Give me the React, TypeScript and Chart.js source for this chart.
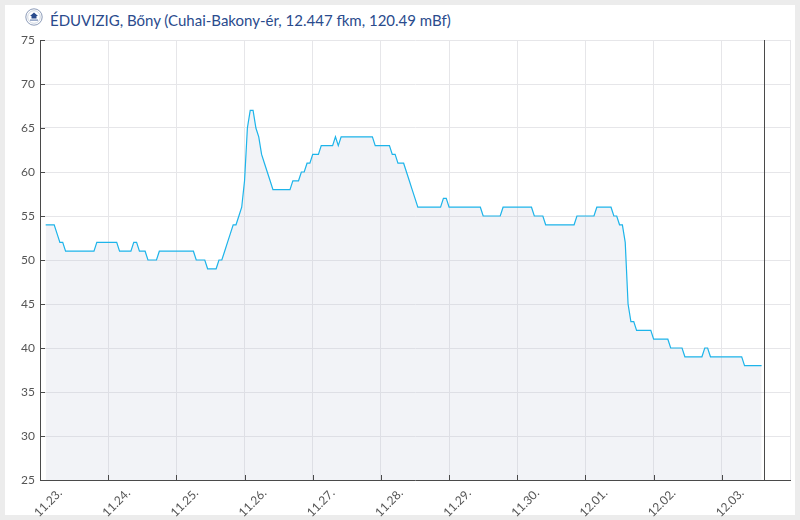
import React, { useEffect, useRef } from "react";
import { Chart, registerables } from "chart.js";

Chart.register(...registerables);

const TITLE = "ÉDUVIZIG, Bőny (Cuhai-Bakony-ér, 12.447 fkm, 120.49 mBf)";

// x tick labels, one per day starting 11.23. 00:00 (hour 0)
const DAY_LABELS = ["11.23.", "11.24.", "11.25.", "11.26.", "11.27.", "11.28.", "11.29.", "11.30.", "12.01.", "12.02.", "12.03."];

// hours since 11.23. 00:00 and water level (cm) at the vertices of the line
const HOURS = [
  2, 5, 6, 7, 8, 9, 19, 20, 27, 28, 32, 33, 34, 35, 37, 38, 41, 42, 54, 55, 58, 59, 62, 63, 64,
  65, 66, 67, 68, 69, 70, 71, 72, 73, 74, 75, 76, 77, 78, 79, 80, 81, 82, 88, 89, 91, 92, 93, 94, 95,
  96, 98, 99, 103, 104, 105, 106, 117, 118, 123, 124, 125, 126, 128, 129, 130, 131, 132, 133, 141, 142, 143,
  144, 155, 156, 162, 163, 173, 174, 177, 178, 188, 189, 195, 196, 201, 202, 203, 204, 205, 206, 207, 208,
  209, 210, 215, 216, 221, 222, 226, 227, 233, 234, 235, 236, 247, 248, 254,
];
const LEVELS = [
  54, 54, 53, 52, 52, 51, 51, 52, 52, 51, 51, 52, 52, 51, 51, 50, 50, 51, 51, 50, 50, 49, 49, 50, 50,
  51, 52, 53, 54, 54, 55, 56, 59, 65, 67, 67, 65, 64, 62, 61, 60, 59, 58, 58, 59, 59, 60, 60, 61, 61,
  62, 62, 63, 63, 64, 63, 64, 64, 63, 63, 62, 62, 61, 61, 60, 59, 58, 57, 56, 56, 57, 57,
  56, 56, 55, 55, 56, 56, 55, 55, 54, 54, 55, 55, 56, 56, 55, 55, 54, 54, 52, 45, 43,
  43, 42, 42, 41, 41, 40, 40, 39, 39, 40, 40, 39, 39, 38, 38,
];

const NOW_HOUR = 255; // 12.03. 15:00 marker
const X_MAX_HOUR = 264;
const Y_MIN = 25;
const Y_MAX = 75;
const Y_STEP = 5;

export default function App() {
  const ref = useRef<HTMLCanvasElement | null>(null);

  useEffect(() => {
    if (!ref.current) return;
    const innerTicks = {
      id: "innerTicks",
      afterDatasetsDraw(chart: any) {
        const { ctx, chartArea, scales } = chart;
        const xs = scales.x;
        const ys = scales.y;
        ctx.save();
        ctx.strokeStyle = "#4a4a4a";
        ctx.lineWidth = 1;
        ctx.beginPath();
        ys.ticks.forEach((t: any) => {
          const y = Math.round(ys.getPixelForValue(t.value)) + 0.5;
          ctx.moveTo(chartArea.left, y);
          ctx.lineTo(chartArea.left + 5, y);
        });
        xs.ticks.forEach((t: any) => {
          if (t.value >= X_MAX_HOUR) return;
          const x = Math.round(xs.getPixelForValue(t.value)) + 0.5;
          ctx.moveTo(x, chartArea.bottom);
          ctx.lineTo(x, chartArea.bottom - 5);
        });
        const nx = Math.round(xs.getPixelForValue(NOW_HOUR)) + 0.5;
        ctx.moveTo(nx, chartArea.top);
        ctx.lineTo(nx, chartArea.bottom);
        ctx.stroke();
        ctx.restore();
      },
    };

    const chart = new Chart(ref.current, {
      type: "line",
      data: {
        datasets: [
          {
            data: HOURS.map((h, i) => ({ x: h, y: LEVELS[i] })),
            borderColor: "#1db4ea",
            borderWidth: 1.2,
            backgroundColor: "rgba(190,195,215,0.2)",
            fill: "start",
            pointRadius: 0,
            tension: 0,
          },
        ],
      },
      options: {
        responsive: false,
        animation: false,
        devicePixelRatio: 1,
        layout: { padding: { left: 0, top: 40, right: 10, bottom: 0 } },
        plugins: { legend: { display: false }, tooltip: { enabled: false }, title: { display: false } },
        scales: {
          x: {
            type: "linear",
            min: 0,
            max: X_MAX_HOUR,
            afterBuildTicks: (scale: any) => {
              const t = [];
              for (let i = 0; i <= DAY_LABELS.length; i++) t.push({ value: i * 24 });
              scale.ticks = t;
            },
            afterFit: (scale: any) => {
              scale.height = 40;
              scale.paddingLeft = 0;
              scale.paddingRight = 0;
            },
            ticks: {
              autoSkip: false,
              maxRotation: 45,
              minRotation: 45,
              labelOffset: 20,
              padding: 6,
              color: "#555",
              font: { family: "Lato", size: 12 },
              callback: (v: any) => DAY_LABELS[Math.round(Number(v) / 24)] ?? "",
            },
            grid: { color: "#e6e6e9", drawTicks: false },
            border: { color: "#4a4a4a", width: 1 },
          },
          y: {
            min: Y_MIN,
            max: Y_MAX,
            afterFit: (scale: any) => {
              scale.width = 40;
              scale.paddingTop = 0;
              scale.paddingBottom = 0;
            },
            ticks: {
              stepSize: Y_STEP,
              padding: 5,
              color: "#555",
              font: { family: "Lato", size: 12 },
            },
            grid: { color: "#e6e6e9", drawTicks: false },
            border: { color: "#4a4a4a", width: 1 },
          },
        },
      },
      plugins: [innerTicks],
    } as any);
    return () => chart.destroy();
  }, []);

  return (
    <div style={{ position: "fixed", left: 0, top: 0, width: 800, height: 520, background: "#ececec", overflow: "hidden" }}>
      <div style={{ position: "absolute", left: 5, top: 5, width: 790, height: 510, background: "#ffffff" }} />
      <svg width="18" height="18" viewBox="0 0 18 18" style={{ position: "absolute", left: 25, top: 8 }}>
        <circle cx="9" cy="9" r="8.2" fill="#ffffff" stroke="#8c9bb8" strokeWidth="1" />
        <circle cx="9" cy="9" r="6.3" fill="none" stroke="#c2cad9" strokeWidth="0.8" />
        <path d="M5 8 L9 4.5 L13 8 L11.5 8 L11.5 10.5 L6.5 10.5 L6.5 8 Z" fill="#2a4b8d" />
        <rect x="5" y="11.5" width="8" height="1.2" fill="#6f86b3" />
      </svg>
      <div
        style={{
          position: "absolute",
          left: 50,
          top: 11,
          fontFamily: "Lato",
          fontSize: 15,
          lineHeight: 1.2,
          color: "#2a4b8d",
          whiteSpace: "nowrap",
        }}
      >
        {TITLE}
      </div>
      <canvas ref={ref} width={800} height={520} style={{ position: "absolute", left: 0, top: 0 }} />
    </div>
  );
}
